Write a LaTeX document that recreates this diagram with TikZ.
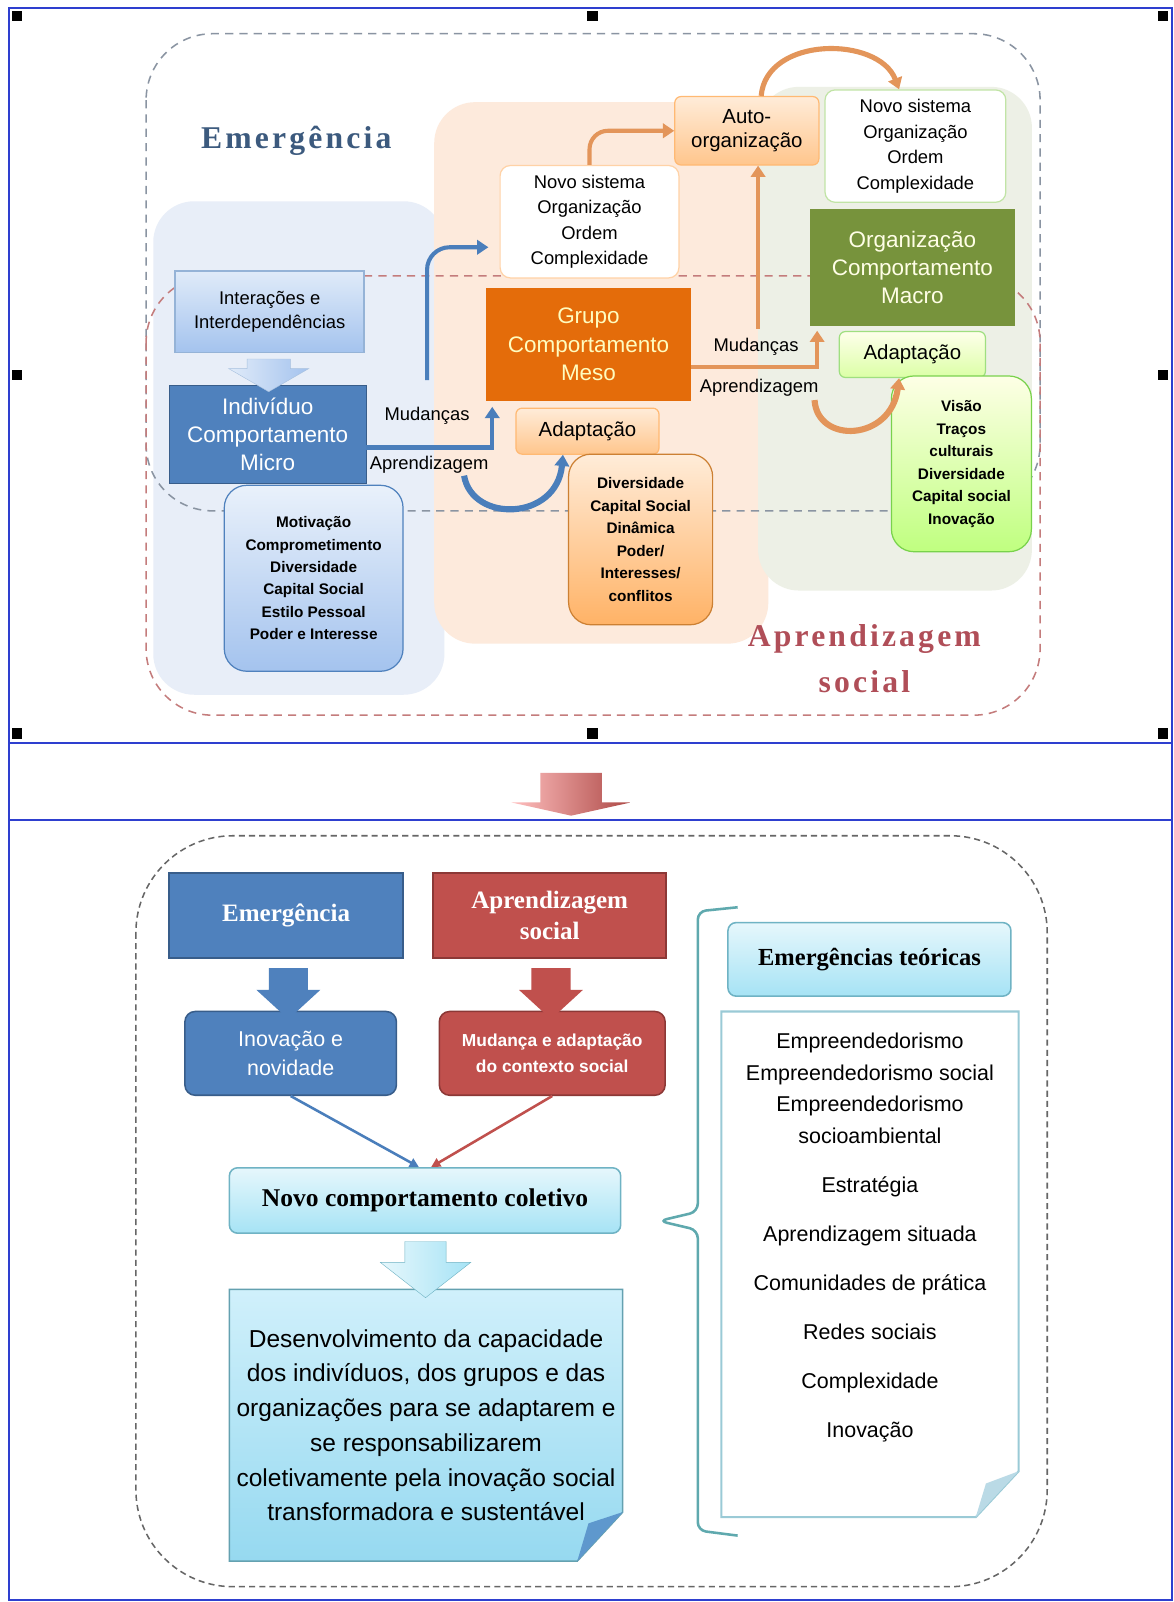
\documentclass[tikz,border=0pt]{standalone}
\usepackage{fontspec}
\setmainfont{Liberation Sans}
\newfontfamily\serifa{Liberation Serif}
\newfontfamily\titulo{Liberation Serif}[LetterSpace=10]
\usetikzlibrary{positioning,arrows.meta,shapes.arrows,calc}

\definecolor{moldura}{HTML}{2E3FCF}
\definecolor{azul}{HTML}{4F81BD}
\definecolor{azulEsc}{HTML}{385D8A}
\definecolor{azulSeta}{HTML}{4A7EBB}
\definecolor{azulTopo}{HTML}{E0EBF9}
\definecolor{azulBase}{HTML}{A4C3EE}
\definecolor{verm}{HTML}{C0504D}
\definecolor{vermEsc}{HTML}{8C3836}
\definecolor{laranja}{HTML}{E46C0A}
\definecolor{laranjaSeta}{HTML}{E3955A}
\definecolor{verde}{HTML}{77933C}
\definecolor{fundoAzul}{HTML}{E8EEF8}
\definecolor{fundoPessego}{HTML}{FDEADC}
\definecolor{fundoVerde}{HTML}{EDF0E6}
\definecolor{cinzaTraco}{HTML}{8A94A2}
\definecolor{vermTraco}{HTML}{C47C7C}
\definecolor{azulTitulo}{HTML}{3C5A7E}
\definecolor{vermTitulo}{HTML}{B04E58}
\definecolor{cianoBorda}{HTML}{6FB3C4}
\definecolor{cianoTopo}{HTML}{E6F7FC}
\definecolor{cianoBase}{HTML}{A6E3F5}
\definecolor{folhaTopo}{HTML}{D0F0FB}
\definecolor{folhaBase}{HTML}{96D9F0}
\definecolor{verdeAgua}{HTML}{5FA9AE}

\begin{document}
\begin{tikzpicture}[x=1pt,y=1pt,
	every node/.style={align=center,inner sep=2pt},
	caixaTexto/.style={rounded corners=10pt,fill=white,font=\fontsize{18}{25}\selectfont},
	nivel/.style={rectangle,font=\fontsize{22}{27.5}\selectfont},
	listaPeq/.style={rounded corners=22pt,line width=1.2pt,font=\bfseries\fontsize{15}{22}\selectfont},
	adaptacao/.style={rounded corners=6pt,line width=1.2pt,font=\fontsize{20}{24}\selectfont},
	rotulo/.style={font=\fontsize{18}{20}\selectfont,inner sep=0pt},
	tituloGrande/.style={font=\titulo\bfseries\fontsize{31}{45}\selectfont},
	setaAzul/.style={draw=azulSeta,line width=4pt,-{Triangle[length=11pt,width=14pt]}},
	setaLaranja/.style={draw=laranjaSeta,line width=4pt,-{Triangle[length=11pt,width=14pt]}},
	setaBloco/.style={single arrow,rotate=-90,inner xsep=0pt,single arrow head indent=0pt},
	tracejado/.style={dash pattern=on 8pt off 6pt,line width=1.5pt,rounded corners=65pt},
	cabecalho/.style={rectangle,line width=1.5pt,text=white,font=\serifa\bfseries\fontsize{24.5}{30}\selectfont},
	efeito/.style={rounded corners=10pt,line width=1.5pt,text=white},
	ciano/.style={rounded corners=8pt,draw=cianoBorda,line width=1.5pt,top color=cianoTopo,bottom color=cianoBase,
		font=\serifa\bfseries\fontsize{25}{30}\selectfont}
]

	% Fundo e moldura
	\fill[white] (0,0) rectangle (1149,-1568);
	\useasboundingbox (0,0) rectangle (1149,-1568);
	\draw[moldura,line width=2pt] (9,-8) rectangle (1147,-1566);
	\draw[moldura,line width=2pt] (9,-727) -- (1147,-727);
	\draw[moldura,line width=2pt] (9,-803) -- (1147,-803);
	\foreach \hx/\hy in {17/16,580/16,1138/16,17/367,1138/367,17/718,580/718,1138/718} {
		\fill[black] (\hx,-\hy) ++(-5,-5) rectangle ++(10,10);
	}

	% Regioes de fundo
	\fill[fundoAzul,rounded corners=40pt] (150,-197) rectangle (435,-680);
	\fill[fundoPessego,rounded corners=40pt] (425,-100) rectangle (752,-630);
	\fill[fundoVerde,rounded corners=40pt] (742,-85) rectangle (1010,-578);

	% Linhas tracejadas
	\draw[tracejado,draw=cinzaTraco] (143,-33) rectangle (1018,-500);
	\draw[tracejado,draw=vermTraco] (143,-270) rectangle (1018,-700);

	% Titulos
	\node[tituloGrande,text=azulTitulo] (tEmerg) at (290,-138) {Emergência};
	\node[tituloGrande,text=vermTitulo] (tAprend) at (846,-645) {Aprendizagem\\social};

	% Nivel micro
	\node[rectangle,draw=azul!60,line width=1.5pt,top color=azulTopo,bottom color=azulBase,
		font=\fontsize{18}{24}\selectfont,minimum width=185,minimum height=80] (interacoes) at (264,-305) {Interações e\\Interdependências};
	\node[nivel,fill=azul,draw=azulEsc,text=white,minimum width=193,minimum height=96] (individuo) at (262,-425) {Indivíduo\\Comportamento\\Micro};
	\node[listaPeq,draw=azul,top color=azulTopo!70!white,bottom color=azulBase,minimum width=175,minimum height=182] (motivacao) at (307,-566)
		{Motivação\\Comprometimento\\Diversidade\\Capital Social\\Estilo Pessoal\\Poder e Interesse};
	\node[setaBloco,draw=azul!50,left color=azulTopo,right color=azulBase,minimum height=32,inner ysep=21pt,
		single arrow head extend=18pt,single arrow tip angle=120] (setaInter) at ($(interacoes.south)!0.5!(individuo.north)$) {};

	% Nivel meso
	\node[caixaTexto,draw=orange!35,line width=1.2pt,minimum width=175,minimum height=110] (novoMeso) at (577,-217)
		{Novo sistema\\Organização\\Ordem\\Complexidade};
	\node[nivel,fill=laranja,text=yellow!25!white,minimum width=200,minimum height=110] (grupo) at (576,-337) {Grupo\\Comportamento\\Meso};
	\node[adaptacao,draw=orange!55,top color=orange!15,bottom color=orange!45,minimum width=140,minimum height=45] (adaptMeso) at (575,-422) {Adaptação};
	\node[listaPeq,draw=orange!75!black!80,top color=orange!15,bottom color=orange!60,minimum width=141,minimum height=167] (diversMeso) at (627,-528)
		{Diversidade\\Capital Social\\Dinâmica\\Poder/\\Interesses/\\conflitos};
	\node[adaptacao,draw=orange!55,top color=orange!15,bottom color=orange!45,minimum width=141,minimum height=67] (auto) at (731,-128) {Auto-\\organização};

	% Nivel macro
	\node[caixaTexto,draw=green!40!olive!35,line width=1.2pt,minimum width=177,minimum height=110] (novoMacro) at (896,-143)
		{Novo sistema\\Organização\\Ordem\\Complexidade};
	\node[nivel,fill=verde,text=yellow!10!white,minimum width=200,minimum height=115] (macro) at (893,-262) {Organização\\Comportamento\\Macro};
	\node[adaptacao,draw=green!50!olive!50,top color=green!5!yellow!8,bottom color=green!40!yellow!35,minimum width=143,minimum height=45] (adaptMacro) at (893,-347) {Adaptação};
	\node[listaPeq,draw=green!50!olive!70,top color=green!5!yellow!10,bottom color=green!50!yellow!50,minimum width=137,minimum height=172] (visao) at (941,-454)
		{Visão\\Traços\\culturais\\Diversidade\\Capital social\\Inovação};

	% Rotulos
	\node[rotulo] (mudMicro) at (418,-407) {Mudanças};
	\node[rotulo] (aprMicro) at (420,-455) {Aprendizagem};
	\node[rotulo] (mudMeso) at (740,-339) {Mudanças};
	\node[rotulo] (aprMeso) at (743,-380) {Aprendizagem};

	% Conectores azuis
	\coordinate (emergBase) at (418,-372);
	\coordinate (emergPonta) at (478,-242);
	\draw[setaAzul,rounded corners=22pt] (emergBase) |- (emergPonta);
	\draw[setaAzul] ([yshift=-13pt]individuo.east) -| ([xshift=6pt,yshift=-6pt]grupo.south west);
	\draw[setaAzul,line width=6pt] ([xshift=-24pt,yshift=-2pt]aprMicro.south east) .. controls (462,-512) and (545,-510) .. ([xshift=-24pt]adaptMeso.south);

	% Conectores laranja
	\coordinate (mesoAuto) at (742,-322);
	\draw[setaLaranja] (mesoAuto) -- (mesoAuto |- auto.south);
	\draw[setaLaranja,rounded corners=18pt] (novoMeso.north) |- (auto.west);
	\draw[setaLaranja] ([yshift=-22pt]grupo.east) -| ([xshift=7pt,yshift=-4pt]macro.south west);
	\draw[setaLaranja,line width=5pt] ([xshift=14pt]auto.north) .. controls (750,-35) and (860,-35) .. ([xshift=-16pt]novoMacro.north);
	\draw[setaLaranja,line width=6pt] ([xshift=-4pt,yshift=-3pt]aprMeso.south east) .. controls (800,-435) and (872,-432) .. ([xshift=-13pt]adaptMacro.south);

	% Seta entre os paineis
	\node[setaBloco,left color=red!25!white,right color=verm!90!black,minimum height=42,inner ysep=30pt,
		single arrow head extend=28pt,single arrow tip angle=155] (setaPaineis) at (559,-774) {};

	% Painel inferior
	\draw[dash pattern=on 6pt off 4pt,line width=1.5pt,draw=gray!80!black,rounded corners=95pt] (133,-818) rectangle (1025,-1553);

	\node[cabecalho,fill=azul,draw=azulEsc,minimum width=229,minimum height=83] (emerg) at (280,-896) {Emergência};
	\node[cabecalho,fill=verm,draw=vermEsc,minimum width=228,minimum height=83] (aprend) at (538,-896) {Aprendizagem\\social};
	\node[efeito,fill=azul,draw=azulEsc,minimum width=207,minimum height=82,font=\fontsize{21}{28}\selectfont] (inovacao) at (284.5,-1031) {Inovação e\\novidade};
	\node[efeito,fill=verm,draw=vermEsc,minimum width=221,minimum height=82,font=\bfseries\fontsize{17}{25}\selectfont] (mudanca) at (540.5,-1031) {Mudança e adaptação\\do contexto social};
	\node[setaBloco,fill=azul,minimum height=50,inner ysep=19pt,single arrow head extend=12pt,single arrow tip angle=95] (setaEmerg)
		at ($(emerg.south)!0.5!(inovacao.north)$) {};
	\node[setaBloco,fill=verm,minimum height=50,inner ysep=19pt,single arrow head extend=12pt,single arrow tip angle=95] (setaAprend)
		at ($(aprend.south)!0.5!(mudanca.north)$) {};

	\node[ciano,minimum width=383,minimum height=64] (novo) at (416,-1175) {Novo comportamento coletivo};
	\draw[draw=azulSeta,line width=2.5pt,-{Triangle[length=9pt,width=9pt]}] (inovacao.south) -- ([xshift=-6pt]novo.north);
	\draw[draw=verm,line width=2.5pt,-{Triangle[length=9pt,width=9pt]}] (mudanca.south) -- ([xshift=6pt]novo.north);

	% Folha do desenvolvimento
	\draw[draw=cianoBorda!90!black,line width=1.5pt,top color=folhaTopo,bottom color=folhaBase]
		(224.5,-1262) -- (609.5,-1262) -- (609.5,-1480) -- (565,-1528) -- (224.5,-1528) -- cycle;
	\fill[cianoBorda!85!blue] (609.5,-1480) -- (565,-1528) -- (576,-1491) -- cycle;
	\node[minimum width=385,minimum height=266,font=\fontsize{24}{34}\selectfont] (desenv) at (417,-1395)
		{Desenvolvimento da capacidade\\dos indivíduos, dos grupos e das\\organizações para se adaptarem e\\se responsabilizarem\\coletivamente pela inovação social\\transformadora e sustentável};
	\node[setaBloco,draw=cianoBorda,left color=cianoTopo,right color=cianoBase,minimum height=55,inner ysep=20pt,
		single arrow head extend=24pt,single arrow tip angle=104] (setaNovo) at ($(novo.south)!0.5!(desenv.north)$) {};

	% Chave e emergencias teoricas
	\draw[verdeAgua,line width=2.5pt,rounded corners=8pt] (722,-888) -- (683,-892) -- (683,-1186) -- (645,-1195)
		-- (683,-1204) -- (683,-1498) -- (722,-1503);
	\node[ciano,minimum width=277,minimum height=72,font=\serifa\bfseries\fontsize{24}{30}\selectfont] (emergTeo) at (851,-939) {Emergências teóricas};
	\draw[draw=cianoBorda!70!white,line width=2pt,fill=white]
		(706,-990) -- (997,-990) -- (997,-1440) -- (955,-1485) -- (706,-1485) -- cycle;
	\fill[gray!50!cyan!40] (997,-1440) -- (955,-1485) -- (965,-1452) -- cycle;
	\node[minimum width=291,minimum height=495,font=\fontsize{21}{31}\selectfont] (listaTeo) at (851.5,-1237.5)
		{Empreendedorismo\\Empreendedorismo social\\Empreendedorismo\\socioambiental\\[17pt]Estratégia\\[17pt]Aprendizagem situada\\[17pt]Comunidades de prática\\[17pt]Redes sociais\\[17pt]Complexidade\\[17pt]Inovação\\[26pt]};

\end{tikzpicture}
\end{document}
